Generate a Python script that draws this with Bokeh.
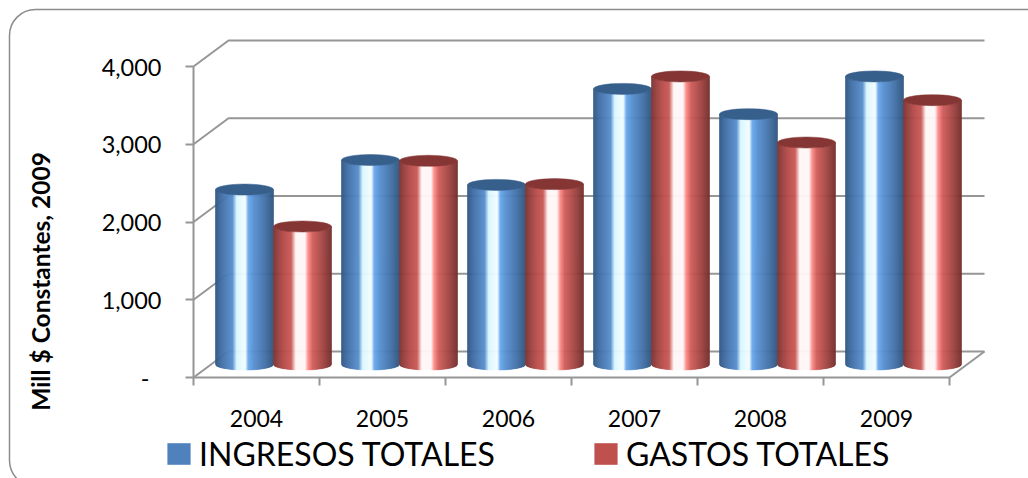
from bokeh.plotting import figure
from bokeh.embed import file_html
from bokeh.resources import INLINE
from bokeh.models import BoxAnnotation, FixedTicker, Label, Legend, LegendItem, Range1d
import numpy as np

years = ["2004", "2005", "2006", "2007", "2008", "2009"]
ingresos = [2250, 2630, 2310, 3545, 3220, 3705]
gastos = [1775, 2620, 2320, 3705, 2855, 3400]
value_ticks = [0, 1000, 2000, 3000, 4000]
value_labels = {0: "-\u00a0\u00a0", 1000: "1,000", 2000: "2,000", 3000: "3,000", 4000: "4,000"}
series_names = ["INGRESOS TOTALES", "GASTOS TOTALES"]
axis_title = "Mill $ Constantes, 2009"

FONT = "Lato"
GRID = "#969696"
PX_X = 126.0            # pixels per category
PX_Y = 77.75 / 1000.0   # pixels per value unit
WALL_DX, WALL_DY = 35 / PX_X, 26 / PX_Y
BAR_DX, BAR_DY = 17 / PX_X, 13 / PX_Y
BAR_W = 58 / PX_X
ELL_H = 11 / PX_Y

W, H = 1028, 478
X0, Y0 = 193, 377   # canvas position of the plot origin
p = figure(width=W, height=H, output_backend="svg", toolbar_location=None,
           min_border_left=0, min_border_right=0, min_border_top=0, min_border_bottom=0,
           x_range=Range1d(-X0 / PX_X, (W - X0) / PX_X), y_range=Range1d(-(H - Y0) / PX_Y, Y0 / PX_Y),
           outline_line_color=None, background_fill_color="white", border_fill_color="white")
p.grid.visible = False

# rounded outer frame
p.add_layout(BoxAnnotation(left=9, right=1100, top=9, bottom=486,
                           left_units="canvas", right_units="canvas", top_units="canvas", bottom_units="canvas",
                           fill_color=None, fill_alpha=0, line_color="#8c8c8c", line_alpha=1, line_width=1.5,
                           border_radius=26, level="underlay"))

# axes
n = len(years)
ax = p.xaxis[0]
ax.fixed_location = 0
ax.ticker = FixedTicker(ticks=[i + 0.5 for i in range(n)], minor_ticks=list(range(n + 1)))
ax.major_label_overrides = {i + 0.5: y for i, y in enumerate(years)}
ax.bounds = (0, n)
ax.axis_line_color = GRID
ax.axis_line_width = 2
ax.major_tick_line_color = None
ax.minor_tick_line_color = GRID
ax.minor_tick_line_width = 2
ax.minor_tick_out = 8
ax.minor_tick_in = 0
ax.major_label_standoff = 24
ax.major_label_text_font = FONT
ax.major_label_text_font_size = "23px"
ax.major_label_text_color = "black"

ay = p.yaxis[0]
ay.fixed_location = 0
ay.ticker = FixedTicker(ticks=value_ticks, minor_ticks=[])
ay.major_label_overrides = value_labels
ay.bounds = (0, 4000)
ay.axis_line_color = GRID
ay.axis_line_width = 2
ay.major_tick_line_color = GRID
ay.major_tick_line_width = 2
ay.major_tick_out = 8
ay.major_tick_in = 0
ay.major_label_standoff = 24
ay.major_label_text_font = FONT
ay.major_label_text_font_size = "23.5px"
ay.major_label_text_color = "black"

p.add_layout(Label(x=(40 - X0) / PX_X, y=(Y0 - 281) / PX_Y, text=axis_title, angle=90, angle_units="deg",
                   text_align="center", text_baseline="middle", text_font=FONT, text_font_style="bold",
                   text_font_size="24.5px", text_color="black"))

# back wall and floor lines
xs, ys = [], []
for v in value_ticks:
    xs.append([0, WALL_DX, n + WALL_DX])
    ys.append([v, v + WALL_DY, v + WALL_DY])
xs.append([n, n + WALL_DX])
ys.append([0, WALL_DY])
p.multi_line(xs, ys, line_color=GRID, line_width=2)


def lerp(stops, t):
    ts = [s[0] for s in stops]
    rgb = [np.interp(t, ts, [s[1][k] for s in stops]) for k in range(3)]
    return "#%02x%02x%02x" % tuple(int(round(c)) for c in rgb)


BLUE_STOPS = [(0.00, (0x2f, 0x55, 0x80)), (0.10, (0x3f, 0x6c, 0xa3)), (0.22, (0x4f, 0x81, 0xbd)),
              (0.30, (0x58, 0x8e, 0xcc)), (0.37, (0xd8, 0xf6, 0xff)), (0.52, (0xf4, 0xfd, 0xff)),
              (0.57, (0x68, 0xa8, 0xec)), (0.66, (0x58, 0x90, 0xd2)), (0.86, (0x42, 0x70, 0xa6)),
              (1.00, (0x2f, 0x55, 0x80))]
RED_STOPS = [(0.00, (0x7a, 0x30, 0x2e)), (0.10, (0x9c, 0x42, 0x40)), (0.22, (0xbd, 0x50, 0x4d)),
             (0.31, (0xc8, 0x58, 0x55)), (0.39, (0xff, 0xf6, 0xf6)), (0.55, (0xff, 0xf6, 0xf6)),
             (0.60, (0xff, 0x8e, 0x8c)), (0.68, (0xd0, 0x5e, 0x5b)), (0.86, (0xa0, 0x44, 0x42)),
             (1.00, (0x74, 0x2e, 0x2c))]
TOPS = ["#365f8c", "#853634"]
STRIPS = 58


def cylinder(center, val, stops, top_color):
    base = BAR_DY
    top = val + BAR_DY
    edges = np.linspace(-1, 1, STRIPS + 1)
    pxs, pys, cols = [], [], []
    half = BAR_W / 2
    for a, b in zip(edges[:-1], edges[1:]):
        tt = np.linspace(a, b, 3)
        curve = np.sqrt(np.clip(1 - tt ** 2, 0, 1)) * ELL_H / 2
        xl = center + tt * half
        pxs.append(list(xl) + list(xl[::-1]))
        pys.append(list(top - curve) + list((base - curve)[::-1]))
        cols.append(lerp(stops, (a + b + 2) / 4))
    p.patches(pxs, pys, fill_color=cols, line_color=cols, line_width=0.6)
    p.ellipse(x=[center], y=[top], width=BAR_W, height=ELL_H, fill_color=top_color, line_color=top_color,
              line_width=0.5)


for i in range(n):
    cx = i + 0.5 + BAR_DX
    cylinder(cx - BAR_W / 2, ingresos[i], BLUE_STOPS, TOPS[0])
    cylinder(cx + BAR_W / 2, gastos[i], RED_STOPS, TOPS[1])

# legend: swatches come from glyphs with no drawable position
swatch = ["#4f81bd", "#c0504d"]
legend_x = [164, 591]
nan = float("nan")
for name, col, lx in zip(series_names, swatch, legend_x):
    r = p.quad(left=[nan], right=[nan], top=[nan], bottom=[nan], fill_color=col, line_color=None)
    p.add_layout(Legend(items=[LegendItem(label=name, renderers=[r])],
                        orientation="horizontal", location=(lx, 5),
                        background_fill_alpha=0, border_line_color=None,
                        label_text_font=FONT, label_text_font_size="32px",
                        label_text_color="black", glyph_width=29, glyph_height=27,
                        label_standoff=6, spacing=0, padding=0, margin=0), "center")

open("out.html", "w").write(file_html(p, INLINE))
